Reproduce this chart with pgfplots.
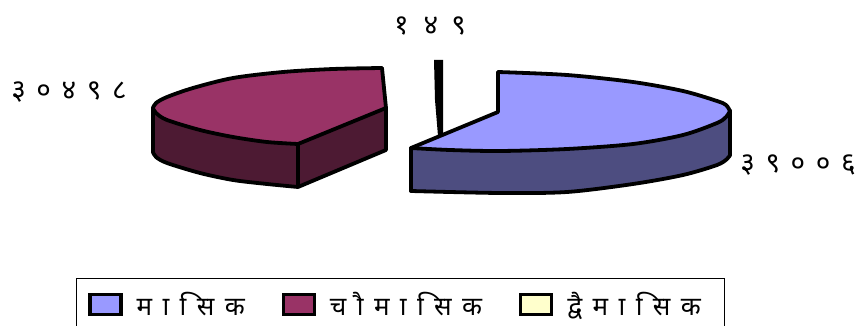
\documentclass[border=0pt]{standalone}
\usepackage{fontspec}
\usepackage{pgfplots}
\pgfplotsset{compat=1.18}
\newfontfamily\deva[Script=Devanagari,LetterSpace=38]{Noto Sans}
\newfontfamily\devaleg[Script=Devanagari,LetterSpace=40]{Noto Sans}
\definecolor{blueTop}{HTML}{9999FF}
\definecolor{blueSide}{HTML}{4D4D80}
\definecolor{maroonTop}{HTML}{993366}
\definecolor{maroonSide}{HTML}{4D1A33}
\definecolor{creamTop}{HTML}{FFFFCC}
\pgfplotsset{
  face/.style={forget plot,draw=none,fill=#1},
  edge/.style={forget plot,black,line width=3.8pt,no markers,line join=round,line cap=round},
  swatch/.style={legend image code/.code={
    \draw[black,line width=3.2pt,fill=#1] (0pt,-10pt) rectangle (31pt,10pt);}},
}
\begin{document}
\begin{tikzpicture}
\begin{axis}[
  at={(0,0)},anchor=south west,
  scale only axis,width=858pt,height=326pt,
  xmin=0,xmax=858,ymin=0,ymax=326,y dir=reverse,
  hide axis,clip=false,
  legend style={at={(76/858,48/326)},anchor=north west,draw=black,line width=0.8pt,
    inner xsep=12pt,inner ysep=12pt,font=\fontsize{26}{28}\selectfont\devaleg,
    legend columns=3,
    /tikz/every even column/.append style={column sep=35pt},
    /tikz/every odd column/.append style={column sep=12pt}},
  legend cell align=left,
]
% maroon slice (30498): side faces
\addplot[face=maroonSide] coordinates {(153,108)(153,152)(156,157)(167,163)(200,173)(233,180)(267,184)(298,187)(386,150)(386,108)(298,144)} --cycle;
% blue slice (39006): side face
\addplot[face=blueSide] coordinates {(411,148)(411,191)(500,193)(567,192)(633,184)(683,175)(717,165)(727,159)(730,155)(730,111)(717,123)(683,135)(633,144)(567,149)(500,151)(450,150)} --cycle;
% top faces
\addplot[face=maroonTop] coordinates {(382,68)(333,69)(283,72)(233,78)(193,88)(167,97)(156,103)(153,108)(156,113)(167,120)(200,130)(233,137)(267,142)(298,144)(386,108)} --cycle;
\addplot[face=blueTop] coordinates {(498,72)(567,75)(633,82)(683,91)(717,101)(726,105)(730,111)(726,117)(717,123)(683,135)(633,144)(567,149)(500,151)(450,150)(413,148)(498,112)} --cycle;
% maroon outlines
\addplot[edge,smooth] coordinates {(382,68)(333,69)(283,72)(233,78)(193,88)(167,97)(156,103)(153,108)};
\addplot[edge,smooth] coordinates {(153,108)(156,113)(167,120)(200,130)(233,137)(267,142)(298,144)};
\addplot[edge,smooth] coordinates {(153,152)(156,157)(167,163)(200,173)(233,180)(267,184)(298,187)};
\addplot[edge] coordinates {(382,68)(386,108)(386,150)(298,187)(298,144)(386,108)};
\addplot[edge] coordinates {(153,108)(153,152)};
% blue outlines
\addplot[edge,smooth] coordinates {(498,72)(567,75)(633,82)(683,91)(717,101)(726,105)(730,111)};
\addplot[edge,smooth] coordinates {(730,111)(726,117)(717,123)(683,135)(633,144)(567,149)(500,151)(450,150)(411,148)};
\addplot[edge,smooth] coordinates {(411,191)(500,193)(567,192)(633,184)(683,175)(717,165)(727,159)(730,155)};
\addplot[edge] coordinates {(730,111)(730,155)};
\addplot[edge] coordinates {(411,148)(411,191)};
\addplot[edge] coordinates {(411,148)(498,112)(498,72)};
% thin slice (149)
\addplot[forget plot,draw=none,fill=black] coordinates {(434,60)(443,60)(443,136)(438,136)(435,100)} --cycle;
\addlegendimage{swatch=blueTop}
\addlegendentry{मासिक}
\addlegendimage{swatch=maroonTop}
\addlegendentry{चौमासिक}
\addlegendimage{swatch=creamTop}
\addlegendentry{द्वैमासिक\rule{10pt}{0pt}}
\node[font=\fontsize{28}{30}\selectfont\deva] at (axis cs:69,92) {३०४९८};
\node[font=\fontsize{28}{30}\selectfont\deva] at (axis cs:430,26) {१\hspace{15pt}४\hspace{13pt}९};
\node[font=\fontsize{28}{30}\selectfont\deva] at (axis cs:798,165) {३९००६};
\end{axis}
\pgfresetboundingbox
\path[use as bounding box] (0,0) rectangle (858pt,326pt);
\end{tikzpicture}
\end{document}
